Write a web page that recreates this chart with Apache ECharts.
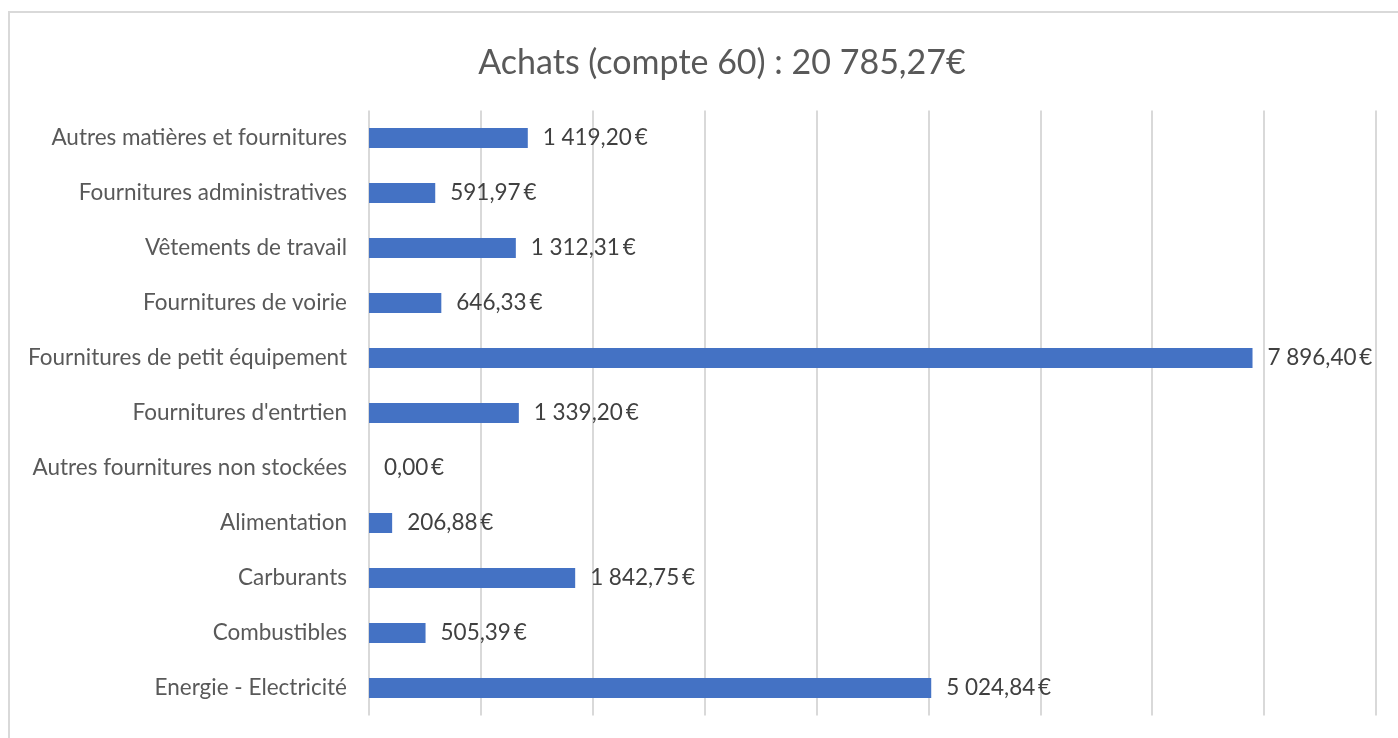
<!DOCTYPE html>
<html>
<head>
<meta charset="utf-8">
<script src="https://cdn.jsdelivr.net/npm/echarts@6/dist/echarts.min.js"></script>
<style>
html,body{margin:0;padding:0;background:#fff;}
#chart{width:1398px;height:738px;}
</style>
</head>
<body>
<div id="chart"></div>
<script>
const titleText = "Achats (compte 60) : 20 785,27€";
const categories = [
  "Autres matières et fournitures",
  "Fournitures administratives",
  "Vêtements de travail",
  "Fournitures de voirie",
  "Fournitures de petit équipement",
  "Fournitures d'entrtien",
  "Autres fournitures non stockées",
  "Alimentation",
  "Carburants",
  "Combustibles",
  "Energie - Electricité"
];
const values = [1419.20, 591.97, 1312.31, 646.33, 7896.40, 1339.20, 0.00, 206.88, 1842.75, 505.39, 5024.84];
const axisMin = 0, axisMax = 9000, axisStep = 1000;

function fmt(v){
  const parts = v.toFixed(2).split('.');
  const intPart = parts[0].replace(/\B(?=(\d{3})+(?!\d))/g, '\u202F');
  return intPart + ',' + parts[1] + '\u2009€';
}

const FONT = 'Lato, "Open Sans", sans-serif';
const chart = echarts.init(document.getElementById('chart'), null, {renderer:'canvas'});
chart.setOption({
  animation:false,
  backgroundColor:'#ffffff',
  title:{
    text:titleText,
    left:717, top:41, textAlign:'center',
    textStyle:{fontFamily:FONT, fontSize:34, fontWeight:'normal', color:'#595959'}
  },
  graphic:[{
    type:'rect', silent:true, z:-1,
    shape:{x:9, y:12, width:1450, height:800},
    style:{fill:'none', stroke:'#d9d9d9', lineWidth:2}
  }],
  grid:{left:369, right:22, top:110.5, bottom:22.5, containLabel:false},
  xAxis:{
    type:'value', min:axisMin, max:axisMax, interval:axisStep,
    axisLabel:{show:false}, axisLine:{show:false}, axisTick:{show:false},
    splitLine:{show:true, lineStyle:{color:'#d9d9d9', width:2}}
  },
  yAxis:{
    type:'category', data:categories, inverse:true,
    axisLine:{show:false}, axisTick:{show:false},
    axisLabel:{margin:22, fontFamily:FONT, fontSize:22.5, color:'#595959'}
  },
  series:[{
    type:'bar', data:values, barWidth:20,
    itemStyle:{color:'#4472c4'},
    label:{show:true, position:'right', distance:15, formatter:p=>fmt(p.value),
      fontFamily:FONT, fontSize:22.5, color:'#404040'}
  }]
});
</script>
</body>
</html>
